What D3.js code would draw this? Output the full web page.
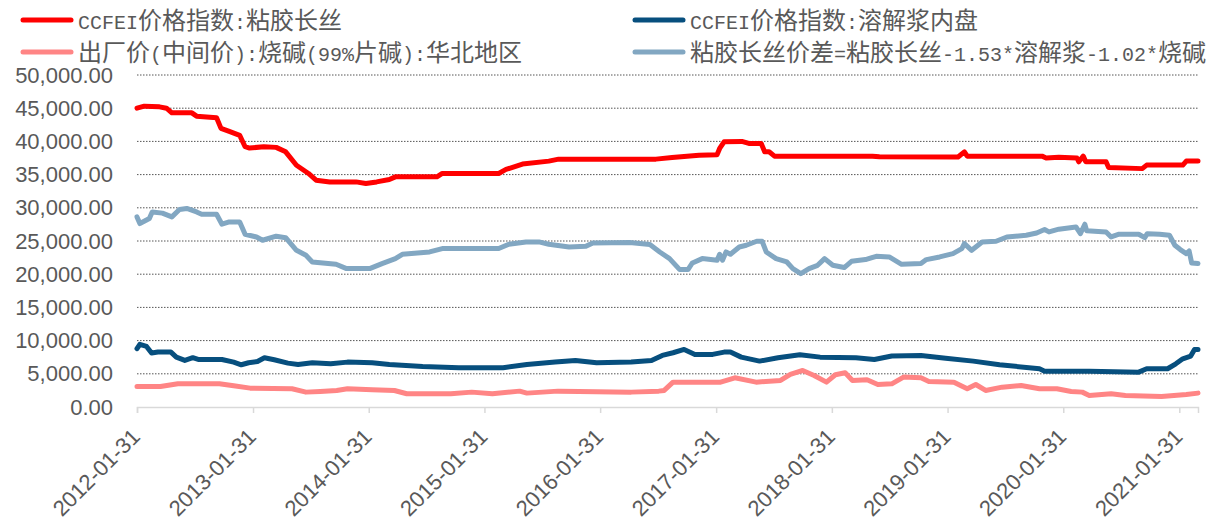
<!DOCTYPE html>
<html>
<head>
<meta charset="utf-8">
<script src="https://cdn.jsdelivr.net/npm/d3@7"></script>
<style>
  body { margin: 0; background: #fff; }
  svg { display: block; }
  .axis text { font-family: "Liberation Sans", Arial, sans-serif; fill: #595959; }
  .legend text { fill: #595959; }
</style>
</head>
<body>
<div id="chart-container"></div>
<script>
// legend labels, in drawing order
const seriesNames = [
    "CCFEI价格指数:粘胶长丝",
    "CCFEI价格指数:溶解浆内盘",
    "出厂价(中间价):烧碱(99%片碱):华北地区",
    "粘胶长丝价差=粘胶长丝-1.53*溶解浆-1.02*烧碱"
];

const xTickLabels = ["2012-01-31", "2013-01-31", "2014-01-31", "2015-01-31", "2016-01-31",
    "2017-01-31", "2018-01-31", "2019-01-31", "2020-01-31", "2021-01-31"];
const yTicks = [0, 5000, 10000, 15000, 20000, 25000, 30000, 35000, 40000, 45000, 50000];

// 粘胶长丝
const viscoseFilament = [
    ["2012-01-31", 45000], ["2012-02-23", 45300], ["2012-04-11", 45200], ["2012-05-03", 45000],
    ["2012-05-20", 44300], ["2012-07-22", 44300], ["2012-08-06", 43800], ["2012-10-08", 43560],
    ["2012-10-22", 41960], ["2012-11-17", 41500], ["2012-12-20", 40900], ["2013-01-06", 39200],
    ["2013-01-20", 39000], ["2013-03-06", 39200], ["2013-04-14", 39100], ["2013-05-14", 38430],
    ["2013-06-17", 36400], ["2013-07-25", 35170], ["2013-08-18", 34160], ["2013-09-30", 33900],
    ["2013-12-22", 33900], ["2014-01-22", 33660], ["2014-02-25", 33900], ["2014-04-06", 34260],
    ["2014-04-25", 34660], ["2014-09-03", 34660], ["2014-09-20", 35170], ["2015-03-17", 35170],
    ["2015-04-09", 35780], ["2015-05-31", 36580], ["2015-08-22", 37030], ["2015-09-22", 37330],
    ["2016-07-25", 37330], ["2016-09-14", 37580], ["2016-12-08", 37930], ["2017-02-03", 38000],
    ["2017-02-11", 38940], ["2017-02-25", 39940], ["2017-04-22", 40000], ["2017-05-14", 39700],
    ["2017-06-22", 39700], ["2017-07-03", 38430], ["2017-07-17", 38430], ["2017-08-03", 37780],
    ["2018-06-08", 37780], ["2018-06-30", 37700], ["2019-03-05", 37650], ["2019-03-25", 38430],
    ["2019-04-03", 37780], ["2019-11-25", 37780], ["2019-12-08", 37500], ["2020-01-17", 37600],
    ["2020-03-14", 37500], ["2020-03-20", 36930], ["2020-04-03", 37780], ["2020-04-11", 36930],
    ["2020-06-14", 36930], ["2020-06-22", 36080], ["2020-10-06", 35900], ["2020-10-20", 36430],
    ["2021-02-11", 36430], ["2021-02-22", 37030], ["2021-03-31", 37030]
];

// 溶解浆内盘
const dissolvingPulp = [
    ["2012-01-31", 8780], ["2012-02-09", 9430], ["2012-03-01", 9125], ["2012-03-17", 8120],
    ["2012-04-06", 8270], ["2012-05-17", 8270], ["2012-06-03", 7510], ["2012-06-30", 7010],
    ["2012-07-25", 7420], ["2012-08-11", 7160], ["2012-10-25", 7160], ["2012-12-01", 6760],
    ["2012-12-25", 6360], ["2013-01-17", 6660], ["2013-02-14", 6860], ["2013-03-08", 7420],
    ["2013-04-08", 7110], ["2013-05-21", 6610], ["2013-06-22", 6410], ["2013-08-06", 6660],
    ["2013-10-03", 6510], ["2013-11-25", 6760], ["2014-02-11", 6660], ["2014-04-06", 6410],
    ["2014-07-20", 6110], ["2014-11-11", 5910], ["2015-03-31", 5910], ["2015-06-14", 6410],
    ["2015-09-11", 6760], ["2015-11-14", 7010], ["2016-01-20", 6660], ["2016-05-08", 6760],
    ["2016-07-11", 7010], ["2016-08-14", 7770], ["2016-09-17", 8170], ["2016-10-22", 8670],
    ["2016-11-25", 7920], ["2017-01-20", 7920], ["2017-02-25", 8270], ["2017-03-17", 8270],
    ["2017-04-20", 7510], ["2017-06-17", 6910], ["2017-08-14", 7420], ["2017-10-22", 7870],
    ["2017-12-25", 7510], ["2018-04-17", 7420], ["2018-06-14", 7160], ["2018-08-08", 7670],
    ["2018-11-08", 7770], ["2019-01-25", 7350], ["2019-04-22", 6910], ["2019-07-14", 6360],
    ["2019-11-17", 5760], ["2019-12-03", 5400], ["2020-04-22", 5400], ["2020-09-25", 5250],
    ["2020-10-20", 5760], ["2020-12-25", 5760], ["2021-01-20", 6510], ["2021-02-11", 7260],
    ["2021-03-08", 7670], ["2021-03-20", 8670], ["2021-03-31", 8670]
];

// 烧碱 华北
const causticSoda = [
    ["2012-01-31", 3090], ["2012-04-14", 3090], ["2012-06-08", 3500], ["2012-10-17", 3500],
    ["2012-12-01", 3190], ["2013-01-22", 2840], ["2013-06-03", 2740], ["2013-07-17", 2240],
    ["2013-08-31", 2340], ["2013-10-22", 2490], ["2013-11-25", 2740], ["2014-02-11", 2590],
    ["2014-04-22", 2490], ["2014-05-31", 1990], ["2014-10-17", 1990], ["2014-12-22", 2240],
    ["2015-02-25", 1990], ["2015-05-22", 2390], ["2015-06-14", 2090], ["2015-09-20", 2390],
    ["2015-11-25", 2340], ["2016-05-08", 2240], ["2016-08-03", 2390], ["2016-08-20", 2500],
    ["2016-09-17", 3740], ["2016-11-25", 3740], ["2017-02-14", 3740], ["2017-03-31", 4400],
    ["2017-06-06", 3740], ["2017-08-22", 4000], ["2017-09-22", 4900], ["2017-10-31", 5500],
    ["2017-12-06", 4750], ["2018-01-14", 3740], ["2018-02-11", 4850], ["2018-03-14", 5160],
    ["2018-04-06", 4000], ["2018-05-22", 4100], ["2018-06-25", 3390], ["2018-08-08", 3490],
    ["2018-09-14", 4500], ["2018-11-08", 4400], ["2018-12-03", 3840], ["2019-02-20", 3740],
    ["2019-04-03", 2740], ["2019-04-30", 3390], ["2019-05-31", 2490], ["2019-07-22", 2990],
    ["2019-09-20", 3240], ["2019-11-17", 2740], ["2020-01-11", 2740], ["2020-02-25", 2340],
    ["2020-03-31", 2240], ["2020-04-22", 1740], ["2020-06-30", 1990], ["2020-08-14", 1740],
    ["2020-12-06", 1590], ["2021-02-22", 1890], ["2021-03-31", 2090]
];

// 粘胶长丝价差
const spread = [
    ["2012-01-31", 28630], ["2012-02-09", 27630], ["2012-03-10", 28380], ["2012-03-19", 29380],
    ["2012-04-20", 29200], ["2012-05-20", 28630], ["2012-06-13", 29740], ["2012-07-06", 29900],
    ["2012-08-06", 29380], ["2012-08-22", 29030], ["2012-10-08", 29030], ["2012-10-25", 27530],
    ["2012-11-17", 27880], ["2012-12-20", 27880], ["2013-01-06", 26020], ["2013-02-11", 25610],
    ["2013-03-02", 25110], ["2013-04-14", 25720], ["2013-05-14", 25500], ["2013-06-17", 23600],
    ["2013-07-17", 22850], ["2013-08-06", 21840], ["2013-10-20", 21490], ["2013-11-22", 20840],
    ["2014-02-03", 20840], ["2014-03-14", 21600], ["2014-04-25", 22350], ["2014-05-17", 23000],
    ["2014-08-11", 23350], ["2014-09-20", 23860], ["2015-03-17", 23860], ["2015-04-18", 24510],
    ["2015-06-11", 24860], ["2015-07-22", 24860], ["2015-08-22", 24510], ["2015-10-25", 24100],
    ["2015-12-17", 24200], ["2016-01-08", 24710], ["2016-05-03", 24760], ["2016-07-06", 24460],
    ["2016-08-06", 23350], ["2016-09-06", 22350], ["2016-10-08", 20690], ["2016-11-03", 20690],
    ["2016-11-17", 21690], ["2016-12-18", 22350], ["2017-02-03", 22100], ["2017-02-11", 23000],
    ["2017-02-20", 22100], ["2017-03-03", 23350], ["2017-03-17", 23000], ["2017-04-14", 24100],
    ["2017-05-06", 24360], ["2017-06-08", 24960], ["2017-06-25", 24960], ["2017-07-08", 23350],
    ["2017-08-08", 22350], ["2017-09-11", 21840], ["2017-09-30", 20840], ["2017-10-25", 20090],
    ["2017-11-20", 20840], ["2017-12-17", 21340], ["2018-01-08", 22350], ["2018-02-03", 21340],
    ["2018-03-11", 21000], ["2018-04-03", 21940], ["2018-05-17", 22200], ["2018-06-20", 22700],
    ["2018-07-31", 22600], ["2018-09-08", 21490], ["2018-11-08", 21600], ["2018-11-25", 22200],
    ["2019-01-06", 22600], ["2019-02-17", 23100], ["2019-03-17", 23860], ["2019-03-25", 24610],
    ["2019-04-17", 23600], ["2019-05-20", 24860], ["2019-07-03", 24960], ["2019-08-06", 25610],
    ["2019-10-06", 25860], ["2019-11-08", 26210], ["2019-12-03", 26730], ["2019-12-17", 26370],
    ["2020-01-17", 26780], ["2020-03-11", 27120], ["2020-03-25", 26110], ["2020-04-08", 27530],
    ["2020-04-14", 26530], ["2020-06-14", 26370], ["2020-06-30", 25610], ["2020-07-25", 26020],
    ["2020-09-25", 26020], ["2020-10-14", 25500], ["2020-10-22", 26110], ["2020-11-30", 26000],
    ["2020-12-31", 25860], ["2021-01-17", 24360], ["2021-02-03", 23710], ["2021-02-22", 23100],
    ["2021-03-03", 23500], ["2021-03-11", 21690], ["2021-03-31", 21600]
];

const colors = ["#ff0000", "#074f7e", "#ff8585", "#82a7c2"];

const width = 1220;
const height = 526;
const margin = { left: 137, right: 22, top: 75, bottom: 119 };

const parse = d3.timeParse("%Y-%m-%d");
const fmtDate = d3.timeFormat("%Y-%m-%d");

const svg = d3.select("#chart-container")
    .append("svg")
        .attr("width", width)
        .attr("height", height);

const x = d3.scaleTime()
    .domain([parse("2012-01-31"), parse("2021-03-31")])
    .range([margin.left, width - margin.right]);

const y = d3.scaleLinear()
    .domain([0, 50000])
    .range([height - margin.bottom, margin.top]);

// dotted gridlines (not at zero, the axis line sits there)
svg.append("g")
    .selectAll("line")
    .data(yTicks.filter(d => d > 0))
    .join("line")
        .attr("x1", margin.left)
        .attr("x2", width - margin.right)
        .attr("y1", d => y(d))
        .attr("y2", d => y(d))
        .attr("stroke", "#555")
        .attr("stroke-width", 1)
        .attr("stroke-dasharray", "1.5,1.5");

// y axis labels
const yAxis = svg.append("g")
    .attr("class", "axis")
    .attr("transform", `translate(${margin.left},0)`)
    .call(d3.axisLeft(y).tickValues(yTicks).tickFormat(d3.format(",.2f")).tickSize(0).tickPadding(24));
yAxis.select(".domain").remove();
yAxis.selectAll("text").attr("font-size", 22);

// x axis
const xAxis = svg.append("g")
    .attr("class", "axis")
    .attr("transform", `translate(0,${y(0)})`)
    .call(d3.axisBottom(x).tickValues(xTickLabels.map(parse)).tickFormat(fmtDate).tickSize(6));
xAxis.select(".domain").attr("stroke", "#d9d9d9").attr("stroke-width", 1.5);
xAxis.selectAll(".tick line").attr("stroke", "#d9d9d9").attr("stroke-width", 1.5);
xAxis.selectAll("text")
    .attr("font-size", 22)
    .attr("text-anchor", "end")
    .attr("dy", null)
    .attr("y", 0)
    .attr("transform", "translate(4,31) rotate(-45)");

// lines
const line = d3.line()
    .x(d => x(parse(d[0])))
    .y(d => y(d[1]));

const allSeries = [viscoseFilament, dissolvingPulp, causticSoda, spread];

svg.append("g")
    .selectAll("path")
    .data(allSeries)
    .join("path")
        .attr("fill", "none")
        .attr("stroke", (d, i) => colors[i])
        .attr("stroke-width", 5)
        .attr("stroke-linejoin", "round")
        .attr("stroke-linecap", "round")
        .attr("d", line);

// legend: two columns, two rows
const legendPos = [
    { x: 23, y: 20 },
    { x: 635, y: 20 },
    { x: 23, y: 52 },
    { x: 635, y: 52 }
];

const legend = svg.append("g")
    .attr("class", "legend")
    .selectAll("g")
    .data(seriesNames)
    .join("g")
        .attr("transform", (d, i) => `translate(${legendPos[i].x},${legendPos[i].y})`);

legend.append("line")
    .attr("x1", 0)
    .attr("x2", 48)
    .attr("stroke", (d, i) => colors[i])
    .attr("stroke-width", 5)
    .attr("stroke-linecap", "round");

// half-width latin runs in a 20px mono font (12px per char), CJK runs full width
const isLatin = s => /[\x00-\x7F]/.test(s);
legend.append("text")
    .attr("x", 55)
    .attr("y", 9)
    .selectAll("tspan")
    .data(d => d.match(/[\x00-\x7F]+|[^\x00-\x7F]+/g))
    .join("tspan")
        .attr("font-family", s => isLatin(s) ? "'Liberation Mono', monospace" : "'Noto Sans CJK SC', sans-serif")
        .attr("font-size", s => isLatin(s) ? 20 : 24)
        .text(s => s);
</script>
</body>
</html>
